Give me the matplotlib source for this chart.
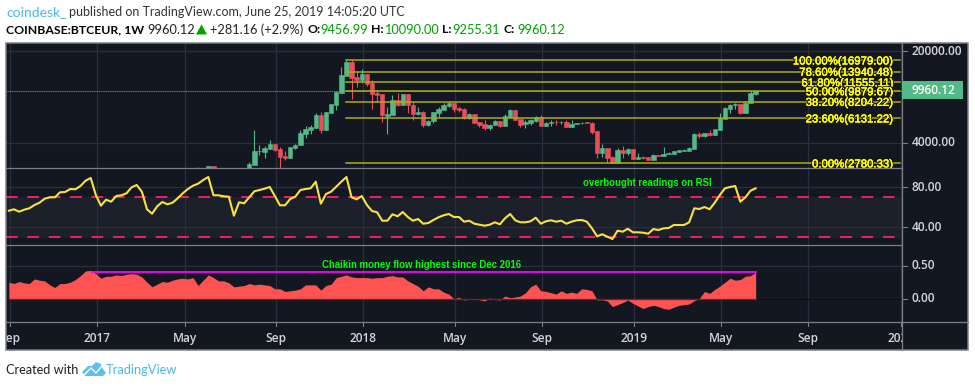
import numpy as np
import matplotlib
matplotlib.use("Agg")
import matplotlib.pyplot as plt
import matplotlib.patheffects as pe
from matplotlib.patches import Rectangle, Polygon

# weekly candles, first one is mid May 2017
opens = [2300,2400,2400,2640,2350,2150,2100,1950,2100,2280,
    2500,2700,3430,3400,3570,3880,3570,3150,3050,3640,
    3850,4650,4990,5150,6490,4990,6720,7740,9570,12900,
    16500,12650,12010,13350,11400,9570,9400,6380,6490,8450,
    7740,9400,7740,6620,6880,5450,5800,6760,7090,7600,
    8050,7300,7200,6150,6620,5780,5550,5180,5450,5800,
    5350,6260,7090,6050,5550,5650,5800,6260,5350,5650,
    5780,5720,5780,5280,5550,5600,5700,5650,4880,3350,
    3640,3100,2780,3510,3310,3570,2990,3100,3100,2940,
    3210,3170,3270,3270,3380,3450,3450,3570,4650,4500,
    4720,4570,4990,6050,7200,7740,7880,6760,8050,9456.99]
highs = [2620,2530,2650,2650,2400,2250,2200,2150,2300,2400,
    2840,4990,3830,3750,4190,3930,3700,3450,3700,3930,
    4990,5310,5450,6720,6840,6840,7880,9920,15100,16979,
    16979,14100,14550,13350,12010,10090,9400,7480,9230,9570,
    9400,9400,8200,7500,6980,5900,6880,7500,8050,8350,
    8050,7500,7350,6760,6620,5780,5950,5500,5900,5800,
    6620,7200,7090,6050,5900,6050,6380,6490,5700,5900,
    5900,5800,5900,5900,5680,5720,5750,5700,4880,3930,
    3640,3150,3640,3740,3640,3570,3310,3150,3100,3250,
    3220,3680,3380,3480,3510,3570,3700,4700,4800,4750,
    4990,5120,6760,7500,7880,8050,7880,8350,9900,10090]
lows = [2250,2300,2350,2200,2100,2050,1900,1850,1950,2200,
    2450,2690,3210,3070,3570,3450,2500,2940,3050,3570,
    3850,4330,4650,5150,4730,4990,6720,7090,9570,12900,
    8600,10600,11400,10800,7200,8150,5750,4650,6490,7600,
    7740,6700,5950,6500,5280,5350,5600,6300,7090,7500,
    6830,6830,6100,6100,5600,5280,4990,4990,5450,5280,
    5350,6200,5900,5280,5180,5450,5780,5350,5350,5350,
    5450,5520,5280,5280,5520,5500,5600,4650,3050,3100,
    2810,2780,2780,3070,3210,2990,2990,2990,2940,2940,
    3160,3150,3250,3250,3370,3430,3430,3570,4350,4420,
    4500,4570,4990,6050,6760,7200,6650,6760,8050,9255.31]
closes = [2400,2480,2640,2350,2150,2100,1950,2100,2280,2480,
    2750,3450,3450,3630,3880,3530,3110,3050,3700,3860,
    4720,5060,5240,6490,4990,6840,7880,9750,13120,16500,
    12530,11950,13350,11200,9400,9230,6490,6600,8450,7740,
    9400,7740,6620,6880,5450,5800,6880,7200,7740,8050,
    7200,7090,6150,6620,5650,5450,5180,5450,5800,5350,
    6380,7090,5950,5450,5780,5900,6260,5350,5650,5780,
    5700,5780,5280,5550,5650,5680,5620,4800,3350,3640,
    3030,2780,3510,3310,3570,2990,3100,3030,2940,3210,
    3170,3270,3310,3450,3510,3510,3640,4650,4500,4720,
    4570,5060,6150,7300,7740,7880,6760,8050,9570,9960.12]

# RSI and Chaikin start 37 weeks before the first candle
rsi = [56.6,58,55.6,57.6,59,62.3,64.6,68.6,70,70,75,75.3,78.3,78,81.3,86.6,89.3,72.3,61.6,67.6,
    65.6,71.3,72,74,80,82.3,75.6,58,53.6,61,65.3,63,64.6,69,74,78.3,81.6,83.6,87.3,90.3,
    72,72,71,70.6,51.6,65,64,70,76,77.3,78.6,80.3,71.3,62,62,68.3,70.6,77.3,78.3,79,
    85.6,63.6,73.3,
    75.6,80.6,85.6,90.3,70,68,71.3,62.3,56.3,55,46.6,46.6,53,51,55.3,50.3,46.6,48.3,43.6,44.3,
    47.3,50,52,53.3,50.3,50.3,45.6,46.6,43.6,42.6,41.6,42.6,45,43,49,53.3,47,45,45,46,
    49.6,43.6,46,47,45.6,46.6,43.6,45.6,47,47.3,45.6,39,31,33,30.6,28.3,36.6,35.6,38.6,35,
    35,34.6,33.6,38.3,37.3,
    39,39.3,42.3,42.3,42.3,45,59,58.3,60.3,58,64.6,72.3,79,80.3,81.3,65.6,70,76.6,79]
cmf = [.25,.23,.26,.24,.23,.30,.28,.27,.21,.17,.23,.23,.25,.29,.35,.42,.43,.38,.31,.34,
    .34,.36,.35,.37,.38,.37,.33,.25,.18,.22,.26,.25,.28,.30,.31,.30,.32,.20,.28,.36,
    .32,.27,.27,.24,.18,.19,.20,.23,.21,.22,.21,.20,.15,.15,.11,.12,.13,.15,.21,.21,
    .21,.13,.20,
    .22,.32,.34,.36,.33,.32,.32,.32,.31,.32,.32,.34,.35,.33,.33,.27,.23,.19,.12,.18,
    .15,.15,.10,.07,0,.02,-.02,-.01,-.01,-.015,-.035,.01,-.01,-.02,.04,.015,.025,.04,.09,.18,
    .22,.12,.11,.09,.07,.12,.08,.10,.08,.15,.14,.12,-.02,-.015,-.035,-.12,-.09,-.06,-.02,-.07,
    -.11,-.15,-.12,-.10,-.12,
    -.15,-.16,-.13,-.10,-.09,-.08,-.03,.005,.11,.08,.14,.19,.25,.31,.28,.29,.34,.35,.40]

fib_pct = ["100.00", "78.60", "61.80", "50.00", "38.20", "23.60", "0.00"]
fib_price = [16979.00, 13940.48, 11555.11, 9879.67, 8204.22, 6131.22, 2780.33]

tick_weeks = [-36.8, -19.7, -2.66, 15.3, 32.3, 50.3, 67.3, 85.3, 102.3, 119.3, 137.4]
tick_names = ["Sep", "2017", "May", "Sep", "2018", "May", "Sep", "2019", "May", "Sep", "2020"]

last_close = 9960.12
rsi_upper = 70
rsi_lower = 30
cmf_high = 0.41

W, H = 975, 387
BG = "#131722"
GRID = "#2b2f3b"
FRAME = "#7d7f86"
UP = "#53b987"
DOWN = "#eb4d5c"
TXT = "#d4d6da"
X0, X1 = 6.3, 902.3
Y_TOP, Y_RSI, Y_CMF, Y_TIME, Y_BOT = 43.3, 168.3, 245, 322.3, 350.3


def fx(px):
    return px / W


def fy(py):
    return 1 - py / H


def pane(top, bottom):
    ax = fig.add_axes([fx(X0), fy(bottom), fx(X1 - X0), (bottom - top) / H], facecolor=BG)
    ax.set_xlim(-37.5, 137.67)
    for s in ax.spines.values():
        s.set_visible(False)
    ax.tick_params(left=False, bottom=False, labelleft=False, labelbottom=False)
    ax.set_xticks(tick_weeks)
    ax.grid(True, color=GRID, lw=0.9)
    ax.set_axisbelow(True)
    return ax


fig = plt.figure(figsize=(W / 100, H / 100), dpi=100, facecolor="white")

# dark panel behind everything incl. price scale
fig.add_artist(Rectangle((fx(X0), fy(Y_BOT)), fx(968.3 - X0), (Y_BOT - Y_TOP) / H,
                         transform=fig.transFigure, fc=BG, ec="none", zorder=-5))

weeks = np.arange(len(opens))
rsi_weeks = np.arange(len(rsi)) - 37
cmf_weeks = np.arange(len(cmf)) - 37

# price pane
ax = pane(Y_TOP, Y_RSI)
ax.set_yscale("log")
ax.set_ylim(2546, 22900)
ax.set_yticks([4000, 20000])
ax.set_yticks([], minor=True)
ax.tick_params(which="both", left=False, labelleft=False)
ax.axhline(last_close, color="#3f9078", lw=0.8, ls=(0, (1, 0.6)), zorder=1)

o, h, l, c = map(np.array, (opens, highs, lows, closes))
col = [UP if c[i] >= o[i] else DOWN for i in range(len(o))]
ax.vlines(weeks, l, h, colors=col, lw=0.8, zorder=2)
ax.bar(weeks, np.abs(c - o), bottom=np.minimum(o, c), width=0.86, color=col,
       edgecolor=col, lw=0.4, zorder=3)

for pct, price in zip(fib_pct, fib_price):
    ax.plot([29, 137.3], [price, price], color="#adad12", lw=1.1, zorder=4)
    t = ax.text(135.95, price * 0.981, f"{pct}%({price:.2f})", ha="right", va="center",
                color="#ffff00", fontsize=8.2, family="Liberation Sans", zorder=6, clip_on=True)
    t.set_path_effects([pe.withStroke(linewidth=1.6, foreground="#1a1a10"),
                        pe.Stroke(linewidth=0.3, foreground="#ffff00"), pe.Normal()])

# RSI pane
ax2 = pane(Y_RSI, Y_CMF)
ax2.set_ylim(22.3, 99)
ax2.set_yticks([40, 80])
ax2.axhspan(rsi_lower, rsi_upper, color="#1c202b", zorder=0)
for lev in (rsi_upper, rsi_lower):
    ax2.axhline(lev, color="#ef1f66", lw=1.4, ls=(0, (6, 5)), zorder=2)
ax2.plot(rsi_weeks, rsi, color="#f7e33f", lw=1.5, zorder=3)

# Chaikin pane
ax3 = pane(Y_CMF, Y_TIME)
ax3.set_ylim(-0.358, 0.814)
ax3.set_yticks([0, 0.5])
ax3.axhline(0, color="#0c0e14", lw=0.8, zorder=1)
ax3.fill_between(cmf_weeks, cmf, 0, color="#ff5252", lw=0, zorder=2)
ax3.plot([cmf_weeks[0], cmf_weeks[-1]], [0, 0], color="#6e2430", lw=0.9, zorder=3)
ax3.plot([-20.7, cmf_weeks[-1]], [cmf_high, cmf_high], color="#ff00ff", lw=1.3, zorder=4)

# time scale
ax4 = fig.add_axes([fx(X0), fy(Y_BOT), fx(X1 - X0), (Y_BOT - Y_TIME) / H], facecolor="none")
ax4.set_xlim(-37.5, 137.67)
ax4.set_ylim(0, 1)
for s in ax4.spines.values():
    s.set_visible(False)
ax4.set_xticks([])
ax4.set_yticks([])
for wk, name in zip(tick_weeks, tick_names):
    ax4.plot([wk, wk], [1, 0.88], color=FRAME, lw=0.8)
    ax4.text(wk, 0.43, name, ha="center", va="center", color=TXT, fontsize=8.6,
             family="Open Sans", weight="semibold", clip_on=True)

# frame + separators
for py in (Y_RSI, Y_CMF, Y_TIME):
    fig.add_artist(plt.Line2D([fx(X0), fx(968.3)] if py == Y_TIME else [fx(X0), fx(X1)],
                              [fy(py), fy(py)], color=FRAME, lw=0.9))
fig.add_artist(Rectangle((fx(X0), fy(Y_BOT)), fx(968.3 - X0), (Y_BOT - Y_TOP) / H,
                         transform=fig.transFigure, fc="none", ec=FRAME, lw=1.1, zorder=8))
fig.add_artist(plt.Line2D([fx(X1), fx(X1)], [fy(Y_TOP), fy(Y_BOT)], color=FRAME, lw=0.9, zorder=8))


# price scale labels
def scale_label(a, val, text):
    py = a.transData.transform((0, val))[1]
    fig.add_artist(plt.Line2D([fx(X1), fx(X1 + 5)], [py / H, py / H], color=FRAME, lw=0.8))
    fig.text(fx(911.5), py / H, text, ha="left", va="center", color=TXT, fontsize=8.6,
             family="Open Sans", weight="semibold")


scale_label(ax, 20000, "20000.00")
scale_label(ax, 4000, "4000.00")
scale_label(ax2, 80, "80.00")
scale_label(ax2, 40, "40.00")
scale_label(ax3, 0.5, "0.50")
scale_label(ax3, 0, "0.00")

fig.add_artist(Rectangle((fx(X1), fy(99.3)), fx(60.5), 18.3 / H, transform=fig.transFigure,
                         fc=UP, ec="none", zorder=9))
fig.text(fx(911.5), fy(90.2), "9960.12", ha="left", va="center", color="white", fontsize=8.6,
         family="Open Sans", weight="semibold", zorder=10)

# notes on the chart
fig.text(fx(583), fy(182.7), "overbought readings on RSI", ha="left", va="center", color="#00ff00",
         fontsize=6.9, family="Liberation Sans", weight="bold", zorder=10)
fig.text(fx(322), fy(264.7), "Chaikin money flow highest since Dec 2016", ha="left", va="center",
         color="#00ff00", fontsize=6.9, family="Liberation Sans", weight="bold", zorder=10)

# header
HF = "Lato"
BLUE = "#4db6e8"
VAL = "#00a000"
fig.text(fx(6), fy(12.5), "coindesk_", ha="left", va="center", color=BLUE, fontsize=10, family=HF)
fig.text(fx(69), fy(12.5), "published on TradingView.com, June 25, 2019 14:05:20 UTC", ha="left",
         va="center", color="#333333", fontsize=9.0, family=HF)
row2 = [(6, "COINBASE:BTCEUR, 1W", "black", "bold"), (147, "9960.12", "#222222", "normal"),
        (210, "+281.16 (+2.9%)", "#222222", "normal"), (307, "O:", "black", "bold"),
        (320.5, "9456.99", VAL, "normal"), (371, "H:", "black", "bold"), (384, "10090.00", VAL, "normal"),
        (442, "L:", "black", "bold"), (452, "9255.31", VAL, "normal"), (504, "C:", "black", "bold"),
        (517, "9960.12", VAL, "normal")]
for px, s, color, wt in row2:
    fig.text(fx(px), fy(29.5), s, ha="left", va="center", color=color, family=HF, weight=wt,
             fontsize=8.8 if wt == "bold" else 9.2)
fig.add_artist(Polygon([(fx(196), fy(34.5)), (fx(207), fy(34.5)), (fx(201.5), fy(24.5))],
                       transform=fig.transFigure, fc="#00a000", ec="none"))

# footer with small logo
fig.text(fx(6), fy(369.5), "Created with", ha="left", va="center", color="#222222", fontsize=9.2, family=HF)
fig.text(fx(106), fy(369.5), "TradingView", ha="left", va="center", color=BLUE, fontsize=9.3, family=HF)
logo = [(82, 372), (88, 366), (92, 366), (96, 362), (101, 364), (103, 369), (106, 373), (103, 376), (85, 376)]
fig.add_artist(Polygon([(fx(a), fy(b)) for a, b in logo], transform=fig.transFigure, fc="#5cc0ea", ec="none"))
zig = [(84, 375), (91, 368), (96, 373), (102, 366)]
fig.add_artist(plt.Line2D([fx(a) for a, b in zig], [fy(b) for a, b in zig], color="white", lw=1.0))

fig.savefig("out.png", dpi=100, facecolor="white")
